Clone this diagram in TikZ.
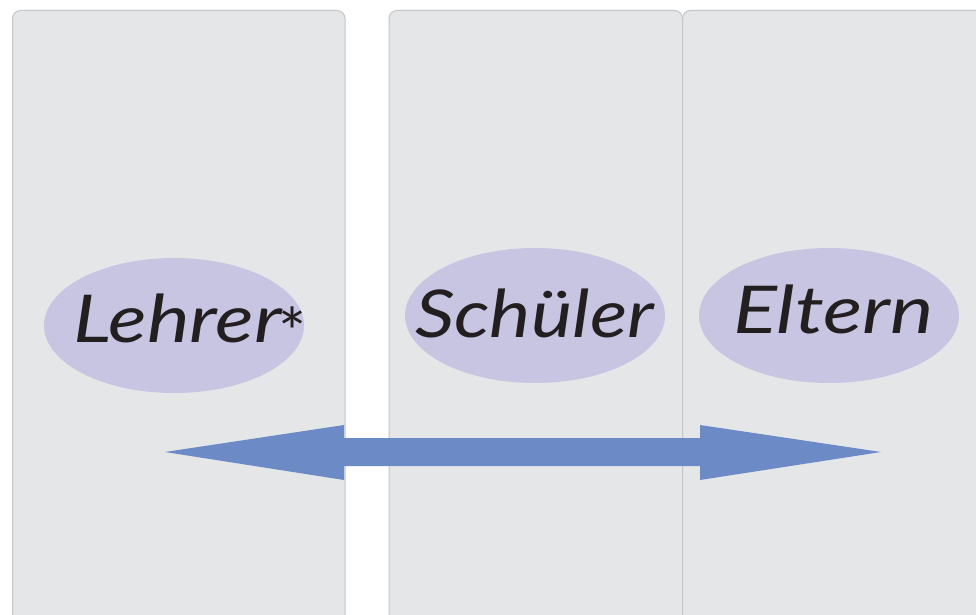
\documentclass[tikz,border=0pt]{standalone}
\usepackage{fontspec}
\usetikzlibrary{shapes.geometric}
\setmainfont{Lato}
\definecolor{panelfill}{HTML}{E5E6E8}
\definecolor{panelline}{HTML}{C4C5C7}
\definecolor{ovalfill}{HTML}{C7C5E2}
\definecolor{arrowfill}{HTML}{6C8AC6}
\definecolor{inkc}{HTML}{231F20}
\tikzset{
  panel/.style={fill=panelfill,draw=panelline,line width=1pt,rounded corners=8pt},
  oval/.style={ellipse,fill=ovalfill,draw=none,minimum width=260pt,minimum height=135pt,inner sep=0pt},
  hand/.style={text=inkc,inner sep=0pt,anchor=base west,font=\fontsize{66}{66}\itshape\selectfont},
  star/.style={text=inkc,inner sep=0pt,font=\fontsize{66}{66}\selectfont}
}
\begin{document}
\begin{tikzpicture}[x=1pt,y=-1pt]
\useasboundingbox (0,0) rectangle (976,615);
\clip (0,0) rectangle (976,615);
\fill[white] (0,0) rectangle (976,615);
\draw[panel] (12.5,10.5) rectangle (345,640);
\draw[panel] (389,10.5) rectangle (682.5,640);
\draw[panel] (682.5,10.5) rectangle (1000,640);
\node[oval] (lehrerOval) at (174,325.5) {};
\node[oval] (schuelerOval) at (535,315.5) {};
\node[oval] (elternOval) at (829,315.5) {};
\node[hand] (lehrer) at (73,342) {\scalebox{1.22}[1]{Lehrer}};
\node[star] (asterisk) at (293,332) {*};
\node[hand] (schueler) at (415,337) {\scalebox{1.18}[1]{Schüler}};
\node[hand] (eltern) at (733,333) {\scalebox{1.24}[1]{Eltern}};
\fill[arrowfill] (165,452) -- (344,425) -- (344,438) -- (700,438) -- (700,425) -- (881,452) -- (700,480) -- (700,466) -- (344,466) -- (344,480) -- cycle;
\end{tikzpicture}
\end{document}
